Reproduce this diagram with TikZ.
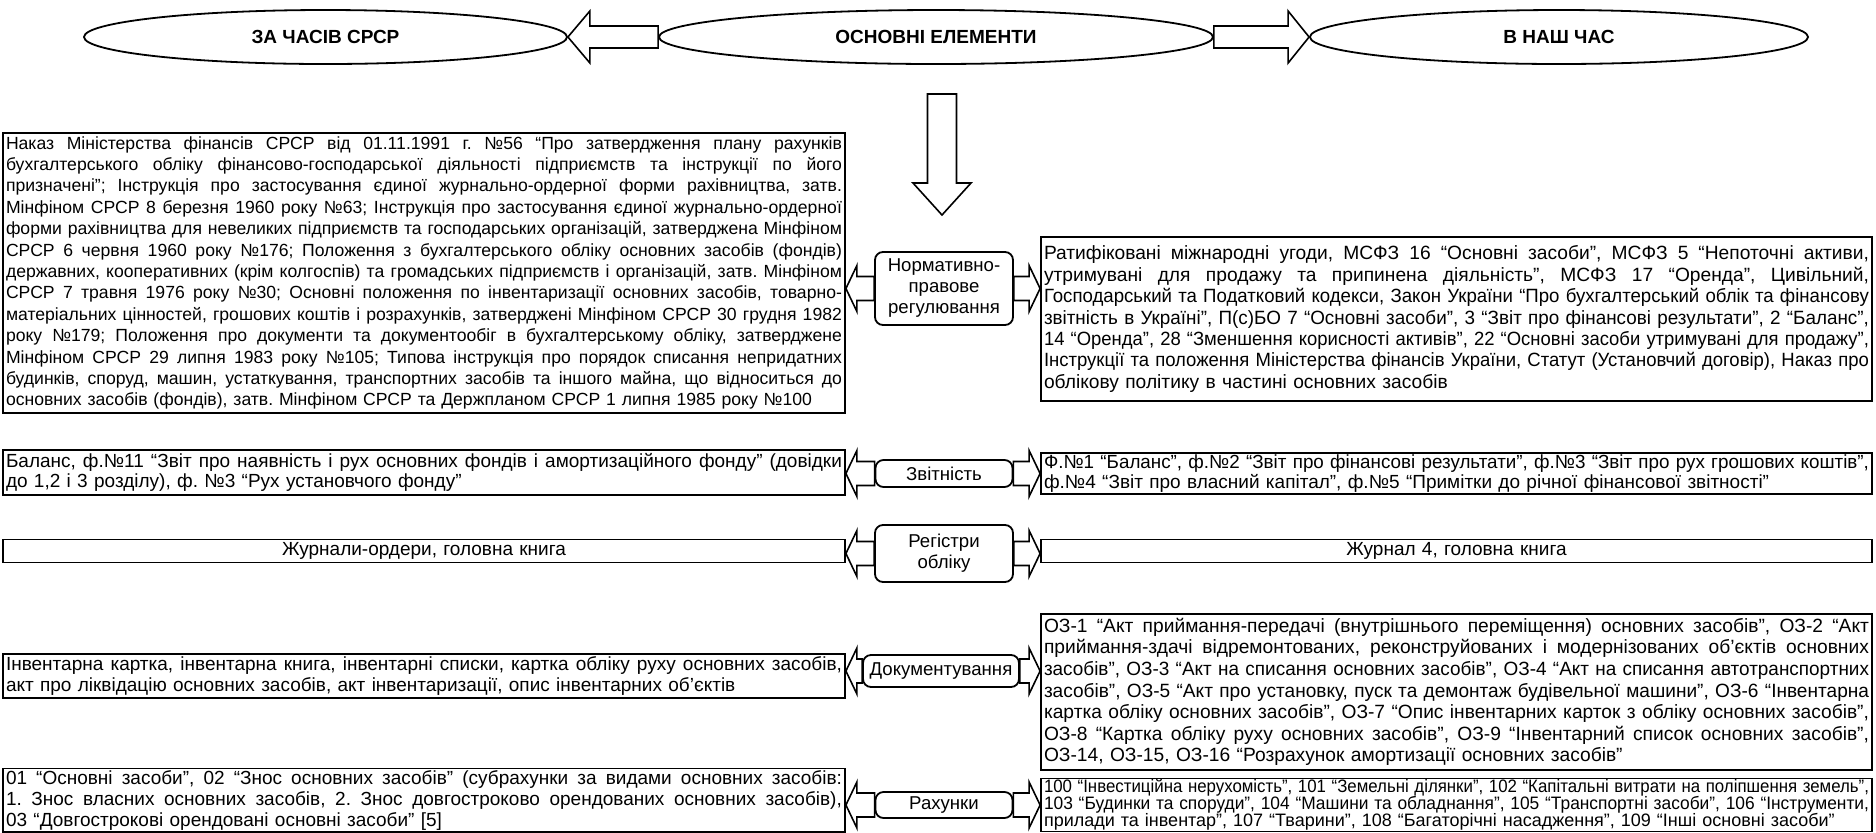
\documentclass[tikz,border=0pt]{standalone}
\usepackage{fontspec}
\usepackage{graphicx}
\setmainfont{Liberation Sans}
\usetikzlibrary{shapes.geometric,calc}
\frenchspacing
\newsavebox\jbox
\newcommand\jline[1]{\sbox\jbox{#1}\noindent\ifdim\wd\jbox>\hsize\resizebox{\hsize}{\height}{\usebox\jbox}\else\hbox to\hsize{\spaceskip=\fontdimen2\font plus 1fil\relax\xspaceskip=\spaceskip #1}\fi\par}
\newcommand\lastl[1]{\sbox\jbox{#1}\noindent\ifdim\wd\jbox>\hsize\resizebox{\hsize}{\height}{\usebox\jbox}\else\usebox\jbox\fi\par}
\newcommand\bodyfont{\fontsize{9.5}{10.7}\selectfont}
\tikzset{
  tbox/.style={draw, line width=0.9pt, inner xsep=1.5pt, inner ysep=0pt, font=\bodyfont},
  lbox/.style={tbox, text width=418pt},
  rbox/.style={tbox, text width=412.5pt},
  cbox/.style={draw, rounded corners=4pt, line width=0.9pt, inner sep=0pt, align=center,
    font=\fontsize{9.3}{10.5}\selectfont},
  ell/.style={draw, ellipse, line width=0.9pt, inner sep=0pt, minimum height=27pt,
    font=\bfseries\fontsize{9.5}{10}\selectfont},
  blk/.style={draw, line width=0.8pt, line join=miter}
}
% horizontal block arrow: tail, tip, shaft half, head half, head length (signed)
\newcommand\hblk[5]{\draw[blk] let \p1=(#1), \p2=(#2) in
  ({\x1},{\y2+#3}) -- ({\x2-(#5)},{\y2+#3}) -- ({\x2-(#5)},{\y2+#4}) -- ({\x2},{\y2}) --
  ({\x2-(#5)},{\y2-#4}) -- ({\x2-(#5)},{\y2-#3}) -- ({\x1},{\y2-#3}) -- cycle;}
% vertical block arrow
\newcommand\vblk[5]{\draw[blk] let \p1=(#1), \p2=(#2) in
  ({\x2+#3},{\y1}) -- ({\x2+#3},{\y2-(#5)}) -- ({\x2+#4},{\y2-(#5)}) -- ({\x2},{\y2}) --
  ({\x2-#4},{\y2-(#5)}) -- ({\x2-#3},{\y2-(#5)}) -- ({\x2-#3},{\y1}) -- cycle;}
\begin{document}
\begin{tikzpicture}[x=0.5pt,y=-0.5pt]
\useasboundingbox (0,0) rectangle (1876,832);
% top ellipses
\node[ell, minimum width=241.5pt] (E1) at (325.5,37) {ЗА ЧАСІВ СРСР};
\node[ell, minimum width=277pt] (E2) at (936,37) {ОСНОВНІ ЕЛЕМЕНТИ};
\node[ell, minimum width=249pt] (E3) at (1559,37) {В НАШ ЧАС};
\hblk{E2.west}{E1.east}{5.5pt}{13pt}{-11pt}
\hblk{E2.east}{E3.west}{5.5pt}{13pt}{10.5pt}
\coordinate (vtop) at (942,94);
\coordinate (vtip) at (942,215);
\vblk{vtop}{vtip}{7.25pt}{14.5pt}{-16pt}
% centre labels
\node[cbox, minimum width=69pt, minimum height=36.5pt] (N1) at (944,288.5) {Нормативно-\\правове\\регулювання};
\node[cbox, minimum width=68.5pt, minimum height=13.5pt] (N2) at (944,473.5) {Звітність};
\node[cbox, minimum width=69pt, minimum height=28.5pt] (N3) at (944,553.5) {Регістри\\обліку};
\node[cbox, minimum width=78pt, minimum height=16pt] (N4) at (941,671) {Документування};
\node[cbox, minimum width=68.5pt, minimum height=13pt] (N5) at (944,805) {Рахунки};
% left boxes
\node[lbox, minimum height=140pt, font=\fontsize{8.8}{10.7}\selectfont] (L1) at (424,273) {%
\jline{Наказ Міністерства фінансів СРСР від 01.11.1991 г. №56 “Про затвердження плану рахунків}
\jline{бухгалтерського обліку фінансово-господарської діяльності підприємств та інструкції по його}
\jline{призначені”; Інструкція про застосування єдиної журнально-ордерної форми рахівництва, затв.}
\jline{Мінфіном СРСР 8 березня 1960 року №63; Інструкція про застосування єдиної журнально-ордерної}
\jline{форми рахівництва для невеликих підприємств та господарських організацій, затверджена Мінфіном}
\jline{СРСР 6 червня 1960 року №176; Положення з бухгалтерського обліку основних засобів (фондів)}
\jline{державних, кооперативних (крім колгоспів) та громадських підприємств і організацій, затв. Мінфіном}
\jline{СРСР 7 травня 1976 року №30; Основні положення по інвентаризації основних засобів, товарно-}
\jline{матеріальних цінностей, грошових коштів і розрахунків, затверджені Мінфіном СРСР 30 грудня 1982}
\jline{року №179; Положення про документи та документообіг в бухгалтерському обліку, затверджене}
\jline{Мінфіном СРСР 29 липня 1983 року №105; Типова інструкція про порядок списання непридатних}
\jline{будинків, споруд, машин, устаткування, транспортних засобів та іншого майна, що відноситься до}
\lastl{основних засобів (фондів), затв. Мінфіном СРСР та Держпланом СРСР 1 липня 1985 року №100}};
\node[lbox, minimum height=22.5pt, font=\fontsize{9.5}{10.3}\selectfont] (L2) at (424,472.5) {%
\jline{Баланс, ф.№11 “Звіт про наявність і рух основних фондів і амортизаційного фонду” (довідки}
\lastl{до 1,2 і 3 розділу), ф. №3 “Рух установчого фонду”}};
\node[lbox, minimum height=11.5pt, align=center] (L3) at (424,551) {Журнали-ордери, головна книга};
\node[lbox, minimum height=22pt] (L4) at (424,676) {%
\jline{Інвентарна картка, інвентарна книга, інвентарні списки, картка обліку руху основних засобів,}
\lastl{акт про ліквідацію основних засобів, акт інвентаризації, опис інвентарних об’єктів}};
\node[lbox, minimum height=31.6pt, font=\fontsize{9.5}{10.5}\selectfont] (L5) at (424,800) {%
\jline{01 “Основні засоби”, 02 “Знос основних засобів” (субрахунки за видами основних засобів:}
\jline{1. Знос власних основних засобів, 2. Знос довгостроково орендованих основних засобів),}
\lastl{03 “Довгострокові орендовані основні засоби” [5]}};
% right boxes
\node[rbox, minimum height=82pt, font=\fontsize{9.6}{10.7}\selectfont] (R1) at (1456.5,319) {%
\jline{Ратифіковані міжнародні угоди, МСФЗ 16 “Основні засоби”, МСФЗ 5 “Непоточні активи,}
\jline{утримувані для продажу та припинена діяльність”, МСФЗ 17 “Оренда”, Цивільний,}
\jline{Господарський та Податковий кодекси, Закон України “Про бухгалтерський облік та фінансову}
\jline{звітність в Україні”, П(с)БО 7 “Основні засоби”, 3 “Звіт про фінансові результати”, 2 “Баланс”,}
\jline{14 “Оренда”, 28 “Зменшення корисності активів”, 22 “Основні засоби утримувані для продажу”,}
\jline{Інструкції та положення Міністерства фінансів України, Статут (Установчий договір), Наказ про}
\lastl{облікову політику в частині основних засобів}
\vskip 6pt};
\node[rbox, minimum height=20.5pt, font=\fontsize{9.5}{9.6}\selectfont] (R2) at (1456.5,473.5) {%
\jline{Ф.№1 “Баланс”, ф.№2 “Звіт про фінансові результати”, ф.№3 “Звіт про рух грошових коштів”,}
\lastl{ф.№4 “Звіт про власний капітал”, ф.№5 “Примітки до річної фінансової звітності”}};
\node[rbox, minimum height=11.5pt, align=center] (R3) at (1456.5,551) {Журнал 4, головна книга};
\node[rbox, minimum height=78pt, font=\fontsize{9.6}{10.8}\selectfont] (R4) at (1456.5,692) {%
\jline{ОЗ-1 “Акт приймання-передачі (внутрішнього переміщення) основних засобів”, ОЗ-2 “Акт}
\jline{приймання-здачі відремонтованих, реконструйованих і модернізованих об’єктів основних}
\jline{засобів”, ОЗ-3 “Акт на списання основних засобів”, ОЗ-4 “Акт на списання автотранспортних}
\jline{засобів”, ОЗ-5 “Акт про установку, пуск та демонтаж будівельної машини”, ОЗ-6 “Інвентарна}
\jline{картка обліку основних засобів”, ОЗ-7 “Опис інвентарних карток з обліку основних засобів”,}
\jline{ОЗ-8 “Картка обліку руху основних засобів”, ОЗ-9 “Інвентарний список основних засобів”,}
\lastl{ОЗ-14, ОЗ-15, ОЗ-16 “Розрахунок амортизації основних засобів”}};
\node[rbox, minimum height=26.5pt, font=\fontsize{9}{8.5}\selectfont] (R5) at (1456.5,805) {%
\jline{100 “Інвестиційна нерухомість”, 101 “Земельні ділянки”, 102 “Капітальні витрати на поліпшення земель”,}
\jline{103 “Будинки та споруди”, 104 “Машини та обладнання”, 105 “Транспортні засоби”, 106 “Інструменти,}
\lastl{прилади та інвентар”, 107 “Тварини”, 108 “Багаторічні насадження”, 109 “Інші основні засоби”}};
% connectors
\foreach \i in {1,...,5}{
  \hblk{N\i.west}{L\i.east |- N\i.west}{6pt}{11.5pt}{-5.5pt}
  \hblk{N\i.east}{R\i.west |- N\i.east}{6pt}{11.5pt}{5.5pt}
}
\end{tikzpicture}
\end{document}
